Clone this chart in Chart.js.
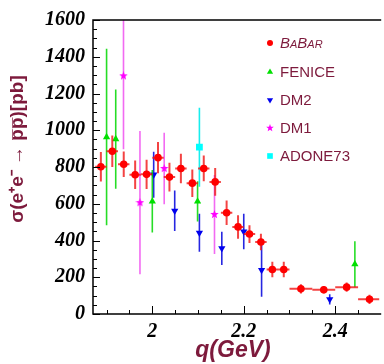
<!DOCTYPE html>
<html><head><meta charset="utf-8">
<script src="https://cdn.jsdelivr.net/npm/chart.js@4/dist/chart.umd.min.js"></script>
<style>html,body{margin:0;padding:0;background:#fff;overflow:hidden}</style>
</head><body>
<canvas id="c" width="384" height="364"></canvas>
<script>
// ---- data ----
const babarQ = [1.8875,1.9125,1.9375,1.9625,1.9875,2.0125,2.0375,2.0625,2.0875,2.1125,2.1375,2.1625,2.1875,2.2125,2.2375,2.2625,2.2875,2.325,2.375,2.425,2.475];
const babarSigma = [801,886,815,758,760,851,745,792,712,792,719,551,474,435,392,242,242,137,132,146,80];
const babarErr = [80,86,70,78,80,85,78,80,75,70,75,67,64,48,45,42,42,25,20,25,25];
const babarBinHalf = [0.0125,0.0125,0.0125,0.0125,0.0125,0.0125,0.0125,0.0125,0.0125,0.0125,0.0125,0.0125,0.0125,0.0125,0.0125,0.0125,0.0125,0.025,0.025,0.025,0.025];

const feniceQ = [1.900,1.920,2.000,2.099,2.443];
const feniceSigma = [963,952,613,613,271];
const feniceErr = [480,270,170,110,125];

const dm2Q = [2.003,2.049,2.103,2.152,2.200,2.239,2.388];
const dm2Sigma = [758,562,442,357,449,239,80];
const dm2Err = [125,110,103,90,97,145,28];

const dm1Q = [1.937,1.973,2.026,2.136];
const dm1Sigma = [1296,606,792,542];
const dm1Err = [400,390,195,215];

const adoneQ = [2.103];
const adoneSigma = [908];
const adoneErr = [215];

const seriesLabels = ['BaBar','FENICE','DM2','DM1','ADONE73'];
const yTickValues = [0,200,400,600,800,1000,1200,1400,1600];
const xTickLabels = ['2','2.2','2.4'];
const xTitle = 'q(GeV)';
const yTitle = 'σ(e⁺e⁻ → p̅p̅)[pb]';

// ---- helpers ----
const MAROON = '#7d1a3c';
function pts(q, s){ return q.map((v,i)=>({x:v, y:s[i]})); }
function starImg(color, size){
  const c=document.createElement('canvas'); c.width=c.height=size;
  const g=c.getContext('2d'); g.fillStyle=color; g.beginPath();
  const cx=size/2, cy=size/2, R=size/2, r=R*0.42;
  for(let i=0;i<10;i++){const a=-Math.PI/2+i*Math.PI/5; const rr=i%2?r:R; g.lineTo(cx+rr*Math.cos(a), cy+rr*Math.sin(a));}
  g.closePath(); g.fill(); return c;
}
const starPlot = starImg('#ff00ff', 9);
const starLeg = starImg('#ff00ff', 8);

const datasets = [
  {label:seriesLabels[0], data:pts(babarQ,babarSigma), errY:babarErr, errX:babarBinHalf,
   pointStyle:'circle', pointRadius:3.8, backgroundColor:'#ff0000', borderColor:'#ff0000', borderWidth:0,
   barColor:'rgba(240,20,20,0.8)', barWidth:2, legR:3},
  {label:seriesLabels[1], data:pts(feniceQ,feniceSigma), errY:feniceErr,
   pointStyle:'triangle', pointRadius:4.2, backgroundColor:'#00e000', borderColor:'#00e000', borderWidth:0,
   barColor:'rgba(0,215,0,0.85)', barWidth:1.6, legR:3.6},
  {label:seriesLabels[2], data:pts(dm2Q,dm2Sigma), errY:dm2Err,
   pointStyle:'triangle', rotation:180, pointRadius:4.2, backgroundColor:'#0000ee', borderColor:'#0000ee', borderWidth:0,
   barColor:'rgba(0,0,220,0.85)', barWidth:1.6, legR:3.6},
  {label:seriesLabels[3], data:pts(dm1Q,dm1Sigma), errY:dm1Err,
   pointStyle:starPlot, pointRadius:4.5, backgroundColor:'#ff00ff', borderColor:'#ff00ff', borderWidth:0,
   barColor:'rgba(240,80,240,0.85)', barWidth:1.6, legImg:starLeg},
  {label:seriesLabels[4], data:pts(adoneQ,adoneSigma), errY:adoneErr,
   pointStyle:'rect', pointRadius:4.8, backgroundColor:'#00ffff', borderColor:'#00ffff', borderWidth:0,
   barColor:'rgba(0,235,235,0.9)', barWidth:1.6, legR:4}
];

const errorBars = {
  id:'errorBars',
  beforeDatasetDraw(chart, args){
    const ds = chart.data.datasets[args.index];
    const {ctx, chartArea:a, scales:{x,y}} = chart;
    ctx.save();
    ctx.beginPath(); ctx.rect(a.left,a.top,a.right-a.left,a.bottom-a.top); ctx.clip();
    ctx.strokeStyle = ds.barColor; ctx.lineWidth = ds.barWidth;
    ds.data.forEach((p,i)=>{
      const px=x.getPixelForValue(p.x), py=y.getPixelForValue(p.y);
      const e=ds.errY[i];
      ctx.beginPath();
      ctx.moveTo(px, y.getPixelForValue(p.y+e)); ctx.lineTo(px, y.getPixelForValue(p.y-e));
      if(ds.errX){ ctx.moveTo(x.getPixelForValue(p.x-ds.errX[i]), py); ctx.lineTo(x.getPixelForValue(p.x+ds.errX[i]), py); }
      ctx.stroke();
    });
    ctx.restore();
  }
};

const frameAndLegend = {
  id:'frameAndLegend',
  afterDraw(chart){
    const {ctx, chartArea:a, scales:{x,y}} = chart;
    ctx.save();
    ctx.strokeStyle='#000'; ctx.lineWidth=1.5;
    ctx.beginPath();
    ctx.moveTo(a.right+2, a.top); ctx.lineTo(a.left, a.top); ctx.lineTo(a.left, a.bottom); ctx.lineTo(a.right+2, a.bottom);
    ctx.stroke();
    ctx.lineWidth=1;
    ctx.beginPath();
    for(let v=0; v<=1600; v+=50){
      const py=Math.round(y.getPixelForValue(v))+0.5; const L = (v%200===0)?7:4;
      ctx.moveTo(a.left, py); ctx.lineTo(a.left+L, py);
    }
    for(let k=38; k<=49; k++){
      const v=k*0.05; const px=Math.round(x.getPixelForValue(v))+0.5; const L=(k%4===0)?8:4;
      ctx.moveTo(px, a.bottom); ctx.lineTo(px, a.bottom-L);
    }
    ctx.stroke();
    // axis titles
    ctx.fillStyle=MAROON;
    ctx.textAlign='center'; ctx.textBaseline='alphabetic';
    ctx.font="italic bold 23px 'Liberation Sans', Arial, sans-serif";
    ctx.fillText(xTitle, 233, 357);
    ctx.save();
    ctx.translate(18, 149); ctx.rotate(-Math.PI/2);
    ctx.textBaseline='middle';
    ctx.font="bold 19px 'Liberation Sans', Arial, sans-serif";
    ctx.fillText(yTitle, 0, 0);
    ctx.restore();
    // legend
    const legX=270, textX=280, rows=[43,72,100,128,156];
    chart.data.datasets.forEach((ds,i)=>{
      const cy=rows[i];
      if(ds.legImg){ ctx.drawImage(ds.legImg, legX-ds.legImg.width/2, cy-ds.legImg.height/2); }
      else { ctx.fillStyle=ds.backgroundColor; ctx.strokeStyle=ds.backgroundColor;
        Chart.helpers.drawPoint(ctx,{pointStyle:ds.pointStyle, radius:ds.legR, rotation:ds.rotation||0, borderWidth:0}, legX, cy); }
      ctx.fillStyle=MAROON; ctx.textBaseline='middle'; ctx.textAlign='left';
      ctx.font = (i===0?'italic small-caps ':'') + "15px 'Liberation Sans', Arial, sans-serif";
      ctx.fillText(ds.label, textX, cy+1);
    });
    ctx.restore();
  }
};

const tickFont = {family:"'Liberation Serif','Times New Roman',serif", size:20, weight:'bold', style:'italic'};

new Chart(document.getElementById('c'), {
  type:'scatter',
  data:{datasets},
  options:{
    responsive:false, animation:false, devicePixelRatio:1,
    layout:{padding:{top:15,left:0,right:0,bottom:0}},
    plugins:{legend:{display:false}, tooltip:{enabled:false}},
    scales:{
      x:{type:'linear', min:1.8703, max:2.4962,
        grid:{display:false, drawTicks:false}, border:{display:false},
        ticks:{stepSize:0.2, includeBounds:false, autoSkip:false, maxRotation:0, padding:6, color:'#000', font:tickFont,
          callback:(v)=>{ const i=[2,2.2,2.4].findIndex(t=>Math.abs(v-t)<1e-6); return i>=0?xTickLabels[i]:''; }},
        title:{display:false},
        afterFit:(s)=>{ s.height=50; }
      },
      y:{type:'linear', min:0, max:1600,
        grid:{display:false, drawTicks:false}, border:{display:false},
        ticks:{stepSize:200, autoSkip:false, padding:8, color:'#000', font:tickFont,
          callback:(v)=>{ const i=yTickValues.indexOf(v); return i>=0?String(yTickValues[i]):''; }},
        title:{display:false},
        afterFit:(s)=>{ s.width=93; }
      }
    }
  },
  plugins:[errorBars, frameAndLegend]
});
</script>
</body></html>
